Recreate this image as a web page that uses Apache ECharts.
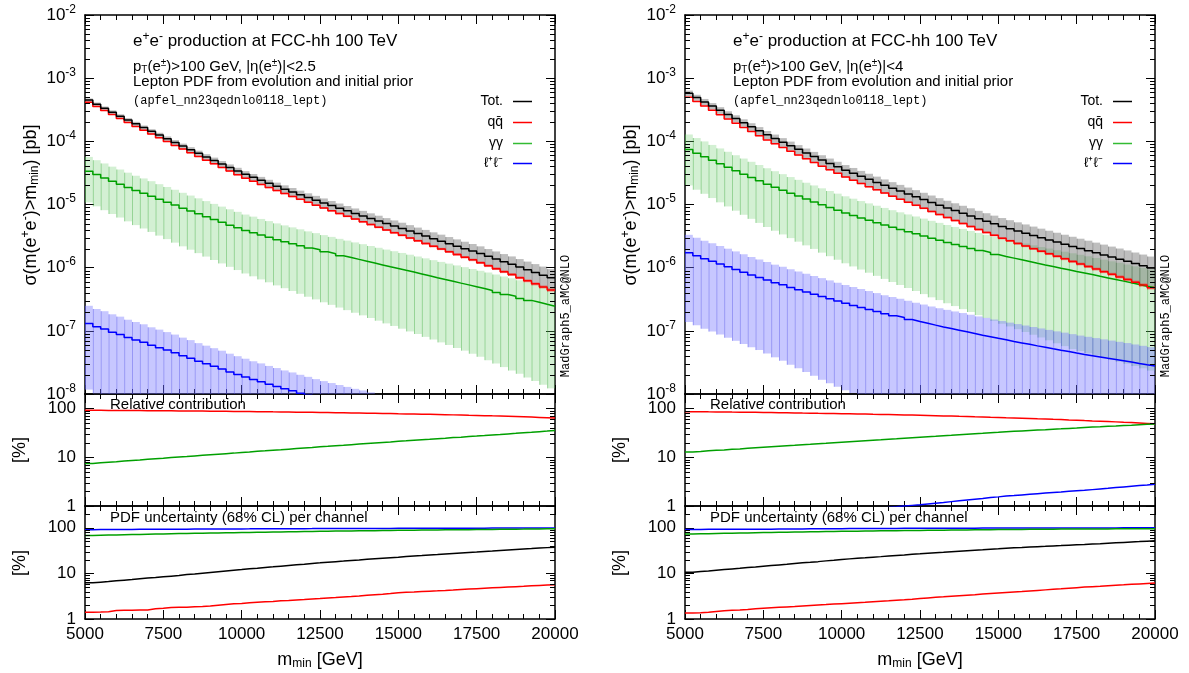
<!DOCTYPE html>
<html><head><meta charset="utf-8">
<script src="https://cdn.jsdelivr.net/npm/echarts@6/dist/echarts.min.js"></script>
<style>html,body{margin:0;padding:0;background:#fff}#c{width:1189px;height:673px}</style>
</head><body><div id="c"></div>
<script>
// ---------------- DATA ----------------
// lower edge of each 250 GeV bin of m_min
const mMin = [
 5000, 5250, 5500, 5750, 6000, 6250, 6500, 6750, 7000, 7250,
 7500, 7750, 8000, 8250, 8500, 8750, 9000, 9250, 9500, 9750,
 10000, 10250, 10500, 10750, 11000, 11250, 11500, 11750, 12000, 12250,
 12500, 12750, 13000, 13250, 13500, 13750, 14000, 14250, 14500, 14750,
 15000, 15250, 15500, 15750, 16000, 16250, 16500, 16750, 17000, 17250,
 17500, 17750, 18000, 18250, 18500, 18750, 19000, 19250, 19500, 19750];
const mMax = 20000;
const xTickLabels = [5000, 7500, 10000, 12500, 15000, 17500, 20000];

// ---- |eta|<2.5 ----
const sigmaTotEta25 = [
 4.50e-4, 3.87e-4, 3.34e-4, 2.89e-4, 2.50e-4, 2.17e-4, 1.89e-4, 1.65e-4, 1.44e-4, 1.26e-4,
 1.10e-4, 9.61e-5, 8.41e-5, 7.37e-5, 6.46e-5, 5.67e-5, 4.98e-5, 4.38e-5, 3.86e-5, 3.40e-5,
 3.00e-5, 2.69e-5, 2.41e-5, 2.16e-5, 1.94e-5, 1.75e-5, 1.58e-5, 1.43e-5, 1.29e-5, 1.17e-5,
 1.06e-5, 9.62e-6, 8.74e-6, 7.95e-6, 7.23e-6, 6.59e-6, 6.00e-6, 5.47e-6, 4.99e-6, 4.56e-6,
 4.17e-6, 3.80e-6, 3.46e-6, 3.16e-6, 2.88e-6, 2.63e-6, 2.40e-6, 2.19e-6, 2.00e-6, 1.83e-6,
 1.67e-6, 1.51e-6, 1.37e-6, 1.24e-6, 1.13e-6, 1.02e-6, 9.25e-7, 8.39e-7, 7.61e-7, 6.90e-7];
const relQQEta25 = [
 92.5, 92.3, 92.1, 91.9, 91.6, 91.4, 91.2, 90.9, 90.6, 90.4,
 90.1, 89.8, 89.6, 89.3, 89.0, 88.7, 88.4, 88.1, 87.8, 87.3,
 87.0, 86.6, 86.3, 85.9, 85.6, 85.2, 84.8, 84.4, 84.0, 83.5,
 83.1, 82.6, 82.2, 81.7, 81.2, 80.7, 80.2, 79.7, 79.2, 78.6,
 78.1, 77.5, 76.9, 76.4, 75.8, 75.2, 74.5, 73.9, 73.2, 72.6,
 71.9, 71.1, 70.4, 69.6, 68.8, 67.9, 67.0, 66.1, 65.2, 64.2];
const relAAEta25 = [
 7.5, 7.7, 7.9, 8.1, 8.4, 8.6, 8.8, 9.1, 9.4, 9.6,
 9.9, 10.2, 10.4, 10.7, 11.0, 11.3, 11.6, 11.9, 12.2, 12.6,
 12.9, 13.3, 13.6, 14.0, 14.3, 14.7, 15.1, 15.5, 15.9, 16.4,
 16.8, 17.3, 17.7, 18.2, 18.7, 19.2, 19.7, 20.2, 20.7, 21.3,
 21.8, 22.4, 23.0, 23.5, 24.1, 24.7, 25.4, 26.0, 26.7, 27.3,
 28.0, 28.8, 29.5, 30.3, 31.1, 32.0, 32.8, 33.7, 34.6, 35.6];
const relLLEta25 = [
 0.029, 0.030, 0.032, 0.033, 0.035, 0.036, 0.038, 0.040, 0.041, 0.043,
 0.045, 0.047, 0.048, 0.050, 0.051, 0.053, 0.055, 0.057, 0.058, 0.060,
 0.062, 0.063, 0.065, 0.066, 0.068, 0.069, 0.071, 0.072, 0.074, 0.075,
 0.077, 0.079, 0.081, 0.083, 0.085, 0.088, 0.090, 0.093, 0.095, 0.098,
 0.100, 0.103, 0.107, 0.110, 0.114, 0.118, 0.122, 0.126, 0.131, 0.135,
 0.140, 0.145, 0.150, 0.155, 0.161, 0.166, 0.172, 0.178, 0.184, 0.190];
const pdfTotEta25 = [
 6.2, 6.4, 6.6, 6.9, 7.1, 7.3, 7.6, 7.9, 8.1, 8.4,
 8.7, 9.0, 9.4, 9.7, 10.1, 10.5, 10.9, 11.3, 11.7, 12.1,
 12.6, 13.0, 13.5, 13.9, 14.4, 14.9, 15.4, 15.9, 16.5, 17.0,
 17.6, 18.1, 18.6, 19.2, 19.7, 20.3, 20.9, 21.5, 22.1, 22.7,
 23.4, 24.0, 24.6, 25.3, 25.9, 26.6, 27.3, 28.0, 28.7, 29.4,
 30.2, 30.9, 31.7, 32.5, 33.3, 34.1, 34.9, 35.8, 36.7, 37.6];
const pdfQQEta25 = [
 1.40, 1.42, 1.45, 1.53, 1.55, 1.56, 1.57, 1.58, 1.68, 1.72,
 1.78, 1.80, 1.82, 1.85, 1.88, 1.92, 2.00, 2.08, 2.15, 2.20,
 2.28, 2.33, 2.38, 2.43, 2.50, 2.55, 2.62, 2.68, 2.75, 2.82,
 2.90, 2.97, 3.05, 3.12, 3.20, 3.30, 3.40, 3.50, 3.62, 3.75,
 3.85, 3.92, 4.00, 4.08, 4.15, 4.23, 4.32, 4.42, 4.52, 4.62,
 4.72, 4.82, 4.92, 5.02, 5.12, 5.22, 5.33, 5.45, 5.55, 5.65];
const pdfAAEta25 = [
 68.0, 68.6, 69.2, 69.8, 70.4, 71.0, 71.6, 72.2, 72.8, 73.4,
 74.0, 74.6, 75.1, 75.6, 76.1, 76.6, 77.1, 77.6, 78.1, 78.6,
 79.1, 79.6, 80.1, 80.6, 81.1, 81.6, 82.1, 82.6, 83.1, 83.6,
 84.1, 84.5, 84.9, 85.3, 85.7, 86.1, 86.5, 86.9, 87.3, 87.7,
 88.1, 88.5, 88.8, 89.2, 89.5, 89.9, 90.2, 90.6, 90.9, 91.3,
 91.7, 92.1, 92.5, 92.9, 93.3, 93.6, 94.0, 94.3, 94.7, 95.0];
const pdfLLEta25 = [
 91.0, 91.2, 91.4, 91.6, 91.8, 92.0, 92.2, 92.4, 92.6, 92.8,
 93.0, 93.2, 93.3, 93.5, 93.7, 93.8, 94.0, 94.2, 94.3, 94.5,
 94.6, 94.8, 94.9, 95.1, 95.2, 95.4, 95.5, 95.7, 95.8, 96.0,
 96.1, 96.2, 96.3, 96.4, 96.5, 96.6, 96.7, 96.8, 96.9, 97.0,
 97.1, 97.2, 97.3, 97.4, 97.5, 97.6, 97.7, 97.8, 97.9, 98.0,
 98.1, 98.2, 98.3, 98.4, 98.5, 98.6, 98.7, 98.8, 98.9, 99.0];

// ---- |eta|<4 ----
const sigmaTotEta4 = [
 5.75e-4, 4.92e-4, 4.21e-4, 3.61e-4, 3.10e-4, 2.66e-4, 2.29e-4, 1.97e-4, 1.70e-4, 1.47e-4,
 1.27e-4, 1.11e-4, 9.71e-5, 8.51e-5, 7.46e-5, 6.55e-5, 5.76e-5, 5.07e-5, 4.47e-5, 3.95e-5,
 3.49e-5, 3.12e-5, 2.79e-5, 2.50e-5, 2.24e-5, 2.01e-5, 1.81e-5, 1.63e-5, 1.47e-5, 1.33e-5,
 1.20e-5, 1.08e-5, 9.76e-6, 8.83e-6, 8.00e-6, 7.26e-6, 6.58e-6, 5.97e-6, 5.43e-6, 4.94e-6,
 4.50e-6, 4.14e-6, 3.81e-6, 3.51e-6, 3.23e-6, 2.98e-6, 2.75e-6, 2.54e-6, 2.35e-6, 2.17e-6,
 2.01e-6, 1.86e-6, 1.72e-6, 1.59e-6, 1.47e-6, 1.36e-6, 1.26e-6, 1.16e-6, 1.07e-6, 9.88e-7];
const relQQEta4 = [
 86.8, 86.5, 86.1, 85.8, 85.4, 85.0, 84.7, 84.3, 83.9, 83.4,
 83.0, 82.6, 82.2, 81.7, 81.2, 80.8, 80.2, 79.8, 79.3, 78.8,
 78.2, 77.7, 77.2, 76.6, 76.1, 75.5, 74.9, 74.3, 73.7, 73.0,
 72.4, 71.8, 71.0, 70.4, 69.6, 68.9, 68.1, 67.4, 66.5, 65.8,
 64.9, 64.2, 63.4, 62.7, 61.9, 61.2, 60.3, 59.6, 58.7, 57.9,
 56.9, 56.0, 55.3, 54.4, 53.5, 52.5, 51.7, 50.7, 49.7, 48.7];
const relAAEta4 = [
 12.9, 13.2, 13.6, 13.9, 14.2, 14.6, 14.9, 15.3, 15.7, 16.1,
 16.5, 16.9, 17.3, 17.7, 18.2, 18.6, 19.1, 19.5, 20.0, 20.5,
 21.0, 21.5, 22.0, 22.5, 23.0, 23.6, 24.1, 24.7, 25.3, 25.9,
 26.5, 27.1, 27.8, 28.4, 29.1, 29.8, 30.5, 31.2, 32.0, 32.7,
 33.5, 34.2, 34.9, 35.6, 36.3, 37.0, 37.8, 38.5, 39.3, 40.1,
 41.0, 41.8, 42.5, 43.3, 44.1, 45.0, 45.8, 46.7, 47.6, 48.5];
const relLLEta4 = [
 0.30, 0.315, 0.33, 0.35, 0.37, 0.39, 0.41, 0.43, 0.45, 0.475,
 0.50, 0.52, 0.55, 0.57, 0.60, 0.63, 0.66, 0.69, 0.72, 0.75,
 0.78, 0.81, 0.84, 0.87, 0.90, 0.93, 0.96, 1.00, 1.03, 1.06,
 1.10, 1.14, 1.18, 1.23, 1.28, 1.33, 1.38, 1.43, 1.49, 1.54,
 1.60, 1.64, 1.69, 1.74, 1.79, 1.84, 1.89, 1.94, 2.00, 2.05,
 2.10, 2.17, 2.24, 2.31, 2.39, 2.47, 2.55, 2.63, 2.71, 2.80];
const pdfTotEta4 = [
 10.6, 11.0, 11.3, 11.7, 12.1, 12.5, 12.9, 13.4, 13.8, 14.3,
 14.8, 15.3, 15.8, 16.4, 17.0, 17.5, 18.1, 18.8, 19.4, 20.1,
 20.8, 21.4, 22.0, 22.7, 23.3, 24.0, 24.7, 25.4, 26.2, 26.9,
 27.7, 28.4, 29.1, 29.9, 30.7, 31.5, 32.3, 33.1, 34.0, 34.8,
 35.7, 36.4, 37.0, 37.7, 38.4, 39.1, 39.9, 40.6, 41.4, 42.2,
 43.0, 43.9, 44.8, 45.8, 46.7, 47.7, 48.7, 49.7, 50.8, 51.8];
const pdfQQEta4 = [
 1.35, 1.37, 1.40, 1.46, 1.52, 1.55, 1.58, 1.62, 1.68, 1.72,
 1.76, 1.80, 1.84, 1.88, 1.93, 1.98, 2.03, 2.07, 2.12, 2.17,
 2.22, 2.27, 2.32, 2.38, 2.44, 2.50, 2.57, 2.64, 2.72, 2.81,
 2.90, 2.98, 3.06, 3.15, 3.24, 3.33, 3.42, 3.52, 3.62, 3.72,
 3.82, 3.92, 4.02, 4.13, 4.24, 4.35, 4.47, 4.59, 4.72, 4.86,
 5.00, 5.12, 5.24, 5.37, 5.50, 5.62, 5.75, 5.88, 6.00, 6.12];
const pdfAAEta4 = [
 73.0, 73.6, 74.2, 74.8, 75.4, 76.0, 76.6, 77.2, 77.8, 78.4,
 79.0, 79.5, 80.0, 80.5, 81.0, 81.5, 82.0, 82.5, 83.0, 83.5,
 84.0, 84.4, 84.8, 85.2, 85.6, 86.0, 86.4, 86.8, 87.2, 87.6,
 88.0, 88.4, 88.7, 89.1, 89.4, 89.8, 90.1, 90.5, 90.8, 91.1,
 91.4, 91.7, 92.0, 92.3, 92.6, 92.9, 93.2, 93.5, 93.8, 94.1,
 94.2, 94.3, 94.4, 94.5, 94.6, 94.7, 94.8, 94.9, 95.0, 95.1];
const pdfLLEta4 = [
 92.0, 92.1, 92.2, 92.3, 92.4, 92.5, 92.6, 92.7, 92.8, 92.9,
 93.1, 93.4, 93.7, 94.0, 94.3, 94.6, 94.9, 95.2, 95.4, 95.6,
 95.8, 95.9, 96.0, 96.2, 96.4, 96.6, 96.8, 97.0, 97.2, 97.4,
 97.5, 97.6, 97.7, 97.8, 97.9, 98.0, 98.1, 98.2, 98.3, 98.4,
 98.5, 98.6, 98.7, 98.8, 98.9, 99.0, 99.0, 99.1, 99.1, 99.2,
 99.2, 99.3, 99.3, 99.4, 99.4, 99.5, 99.5, 99.5, 99.6, 99.6];

const etaCutLabels = ['2.5', '4'];
const legendNames = ['Tot.', 'qq\u0304', '\u03b3\u03b3', '\u2113\u207a\u2113\u207b'];

// ---------------- LAYOUT / STYLE ----------------
const FONT = '"Liberation Sans", Arial, Helvetica, sans-serif';
const MONO = '"Liberation Mono", "DejaVu Sans Mono", monospace';
const PANEL_X = [85, 685];
const PW = 470;
const ROWS = [{top: 15, h: 379}, {top: 394, h: 112}, {top: 506, h: 113}];
const YR = [[1e-8, 1e-2], [1, 200], [1, 300]];
const COL = {tot: '#000000', qq: '#ff0000', aa: '#00a000', ll: '#0000ff'};
const BAND = {tot: 'rgba(100,100,100,0.42)', qq: 'rgba(255,30,30,0.45)', aa: 'rgba(110,205,110,0.30)', ll: 'rgba(115,115,255,0.40)'};
const BANDEDGE = {tot: 'rgba(80,80,80,0.35)', qq: 'rgba(255,0,0,0.4)', aa: 'rgba(60,170,60,0.40)', ll: 'rgba(80,80,230,0.40)'};

const panels = [
  {tot: sigmaTotEta25, rel: {qq: relQQEta25, aa: relAAEta25, ll: relLLEta25},
   pdf: {tot: pdfTotEta25, qq: pdfQQEta25, aa: pdfAAEta25, ll: pdfLLEta25}},
  {tot: sigmaTotEta4, rel: {qq: relQQEta4, aa: relAAEta4, ll: relLLEta4},
   pdf: {tot: pdfTotEta4, qq: pdfQQEta4, aa: pdfAAEta4, ll: pdfLLEta4}}
];

function stepData(vals) {
  const d = vals.map((v, i) => [mMin[i], v]);
  d.push([mMax, vals[vals.length - 1]]);
  return d;
}
function stepSeries(g, vals, color, width, z) {
  return {type: 'line', xAxisIndex: 2 * g, yAxisIndex: 2 * g, data: stepData(vals), step: 'end',
    showSymbol: false, symbol: 'none', clip: true, silent: true, z: z,
    lineStyle: {color: color, width: width}};
}
function bandSeries(g, cent, unc, key, z) {
  const data = cent.map((c, i) => [mMin[i], i < cent.length - 1 ? mMin[i + 1] : mMax,
    Math.max(c * (1 - unc[i] / 100), 1e-14), c * (1 + unc[i] / 100)]);
  const fill = BAND[key], edge = BANDEDGE[key];
  return {type: 'custom', xAxisIndex: 2 * g, yAxisIndex: 2 * g, clip: true, silent: true, z: z, data: data,
    encode: {x: [0, 1], y: [2, 3]},
    renderItem: function (params, api) {
      const a = api.coord([api.value(0), api.value(3)]);
      const b = api.coord([api.value(1), api.value(2)]);
      const cs = params.coordSys;
      const y1 = Math.max(a[1], cs.y), y2 = Math.min(b[1], cs.y + cs.height);
      if (y2 <= y1) return null;
      return {type: 'group', children: [
        {type: 'rect', shape: {x: a[0], y: y1, width: b[0] - a[0], height: y2 - y1}, style: {fill: fill}},
        {type: 'line', shape: {x1: a[0] + 0.5, y1: y1, x2: a[0] + 0.5, y2: y2}, style: {stroke: edge, lineWidth: 1}}
      ]};
    }};
}
function minorTickSeries(g, range) {
  const vals = [];
  for (let e = -10; e <= 3; e++) for (let k = 2; k <= 9; k++) {
    const v = k * Math.pow(10, e);
    if (v > range[0] * 1.0001 && v < range[1] * 0.9999) vals.push([mMin[0], v]);
  }
  return {type: 'custom', xAxisIndex: 2 * g, yAxisIndex: 2 * g, silent: true, z: 20, data: vals,
    encode: {x: 0, y: 1},
    renderItem: function (params, api) {
      const cs = params.coordSys;
      const y = Math.round(api.coord([api.value(0), api.value(1)])[1]) + 0.5;
      return {type: 'group', children: [
        {type: 'line', shape: {x1: cs.x, y1: y, x2: cs.x + 5, y2: y}, style: {stroke: '#000', lineWidth: 1}},
        {type: 'line', shape: {x1: cs.x + cs.width - 5, y1: y, x2: cs.x + cs.width, y2: y}, style: {stroke: '#000', lineWidth: 1}}
      ]};
    }};
}

const isPow10 = v => Math.abs(Math.log10(v) - Math.round(Math.log10(v))) < 1e-6;

const grids = [], xAxis = [], yAxis = [], series = [], graphic = [];

panels.forEach((P, pi) => {
  const qq = P.tot.map((t, i) => t * P.rel.qq[i] / 100);
  const aa = P.tot.map((t, i) => t * P.rel.aa[i] / 100);
  const ll = P.tot.map((t, i) => t * P.rel.ll[i] / 100);
  ROWS.forEach((r, ri) => {
    const g = pi * 3 + ri;
    grids.push({left: PANEL_X[pi], top: r.top, width: PW, height: r.h});
    const bottom = ri === 2;
    const xCommon = {gridIndex: g, type: 'value', min: 5000, max: 20000, interval: 2500,
      axisLine: {show: true, onZero: false, lineStyle: {color: '#000', width: 1.5}},
      axisTick: {show: true, inside: true, length: 9, lineStyle: {color: '#000', width: 1}},
      minorTick: {show: true, splitNumber: 5, length: 5, lineStyle: {color: '#000', width: 1}},
      splitLine: {show: false}, minorSplitLine: {show: false}};
    xAxis.push(Object.assign({}, xCommon, {position: 'bottom',
      axisLabel: {show: bottom, margin: 7, color: '#000', fontFamily: FONT, fontSize: 17,
        showMinLabel: true, showMaxLabel: true,
        formatter: v => xTickLabels.indexOf(v) >= 0 ? String(v) : ''}}));
    xAxis.push(Object.assign({}, xCommon, {position: 'top', axisLabel: {show: false}}));
    const yCommon = {gridIndex: g, type: 'log', logBase: 10, min: YR[ri][0], max: YR[ri][1],
      axisLine: {show: true, onZero: false, lineStyle: {color: '#000', width: 1.5}},
      axisTick: {show: true, inside: true, length: 9, lineStyle: {color: '#000', width: 1}},
      splitLine: {show: false}};
    const lab = ri === 0
      ? {show: true, margin: 9, showMinLabel: true, showMaxLabel: true,
         formatter: v => isPow10(v) ? '{b|10}{s|' + Math.round(Math.log10(v)) + '}' : '',
         rich: {b: {fontSize: 17, fontFamily: FONT, color: '#000'},
                s: {fontSize: 12, fontFamily: FONT, color: '#000', padding: [0, 0, 11, 0]}}}
      : {show: true, margin: 9, showMinLabel: true, showMaxLabel: true, color: '#000', fontFamily: FONT, fontSize: 17,
         formatter: v => isPow10(v) ? String(Math.round(v)) : ''};
    yAxis.push(Object.assign({}, yCommon, {position: 'left', axisLabel: lab}));
    yAxis.push(Object.assign({}, yCommon, {position: 'right', axisLabel: {show: false}}));
    series.push(minorTickSeries(g, YR[ri]));
    if (ri === 0) {
      series.push(bandSeries(g, aa, P.pdf.aa, 'aa', 2));
      series.push(bandSeries(g, ll, P.pdf.ll, 'll', 3));
      series.push(bandSeries(g, P.tot, P.pdf.tot, 'tot', 4));
      series.push(bandSeries(g, qq, P.pdf.qq, 'qq', 5));
      series.push(stepSeries(g, aa, COL.aa, 1.5, 6));
      series.push(stepSeries(g, ll, COL.ll, 1.5, 6));
      series.push(stepSeries(g, qq, COL.qq, 1.5, 7));
      series.push(stepSeries(g, P.tot, COL.tot, 1.5, 8));
    } else if (ri === 1) {
      series.push(stepSeries(g, P.rel.qq, COL.qq, 1.5, 6));
      series.push(stepSeries(g, P.rel.aa, COL.aa, 1.5, 6));
      series.push(stepSeries(g, P.rel.ll, COL.ll, 1.5, 6));
    } else {
      series.push(stepSeries(g, P.pdf.ll, COL.ll, 1.5, 6));
      series.push(stepSeries(g, P.pdf.aa, COL.aa, 1.5, 6));
      series.push(stepSeries(g, P.pdf.tot, COL.tot, 1.5, 6));
      series.push(stepSeries(g, P.pdf.qq, COL.qq, 1.5, 6));
    }
  });

  // ---- texts ----
  const dx = PANEL_X[pi] - PANEL_X[0];
  const T = (x, y, text, o) => {
    o = o || {};
    return {type: 'text', x: x, y: y, rotation: o.rot || 0, silent: true, z: 100,
      style: {text: text, fontSize: o.size || 15, fontFamily: o.font || FONT, fill: '#000',
        textAlign: o.align || 'left', align: o.align || 'left',
        textVerticalAlign: 'middle', verticalAlign: 'middle', rich: o.rich}};
  };
  const richSS = s => ({
    sup: {fontSize: Math.round(s * 0.68), fontFamily: FONT, fill: '#000', padding: [0, 0, Math.round(s * 0.55), 0]},
    sub: {fontSize: Math.round(s * 0.68), fontFamily: FONT, fill: '#000', padding: [Math.round(s * 0.45), 0, 0, 0]}
  });
  graphic.push(T(133 + dx, 41, 'e{sup|+}e{sup|-} production at FCC-hh 100 TeV', {size: 17, rich: richSS(17)}));
  graphic.push(T(133 + dx, 67, 'p{sub|T}(e{sup|\u00b1})>100 GeV, |\u03b7(e{sup|\u00b1})|<' + etaCutLabels[pi], {size: 15, rich: richSS(15)}));
  graphic.push(T(133 + dx, 82, 'Lepton PDF from evolution and initial prior', {size: 15}));
  graphic.push(T(133 + dx, 101, '(apfel_nn23qednlo0118_lept)', {size: 12, font: MONO}));
  const legY = [101, 122, 143, 163];
  const legC = [COL.tot, COL.qq, '#33bb33', COL.ll];
  legendNames.forEach((n, k) => {
    graphic.push(T(503 + dx, legY[k], n, {size: 14, align: 'right'}));
    graphic.push({type: 'line', silent: true, z: 100, shape: {x1: 513 + dx, y1: legY[k] + 0.5, x2: 532 + dx, y2: legY[k] + 0.5},
      style: {stroke: legC[k], lineWidth: 1.5}});
  });
  graphic.push(T(31 + dx, 205, '\u03c3(m(e{sup|+}e{sup|-})>m{sub|min}) [pb]', {size: 18, rot: Math.PI / 2, align: 'center', rich: richSS(18)}));
  graphic.push(T(20 + dx, 450, '[%]', {size: 18, rot: Math.PI / 2, align: 'center'}));
  graphic.push(T(20 + dx, 563, '[%]', {size: 18, rot: Math.PI / 2, align: 'center'}));
  graphic.push(T(110 + dx, 405, 'Relative contribution', {size: 15}));
  graphic.push(T(110 + dx, 518, 'PDF uncertainty (68% CL) per channel', {size: 15}));
  graphic.push(T(320 + dx, 660, 'm{sub|min} [GeV]', {size: 18, align: 'center', rich: richSS(18)}));
  graphic.push(T(566 + dx, 316, 'MadGraph5_aMC@NLO', {size: 12, font: MONO, rot: Math.PI / 2, align: 'center'}));
});

const chart = echarts.init(document.getElementById('c'), null, {renderer: 'canvas'});
chart.setOption({
  animation: false,
  backgroundColor: '#ffffff',
  grid: grids, xAxis: xAxis, yAxis: yAxis, series: series, graphic: graphic
});
</script>
</body></html>
